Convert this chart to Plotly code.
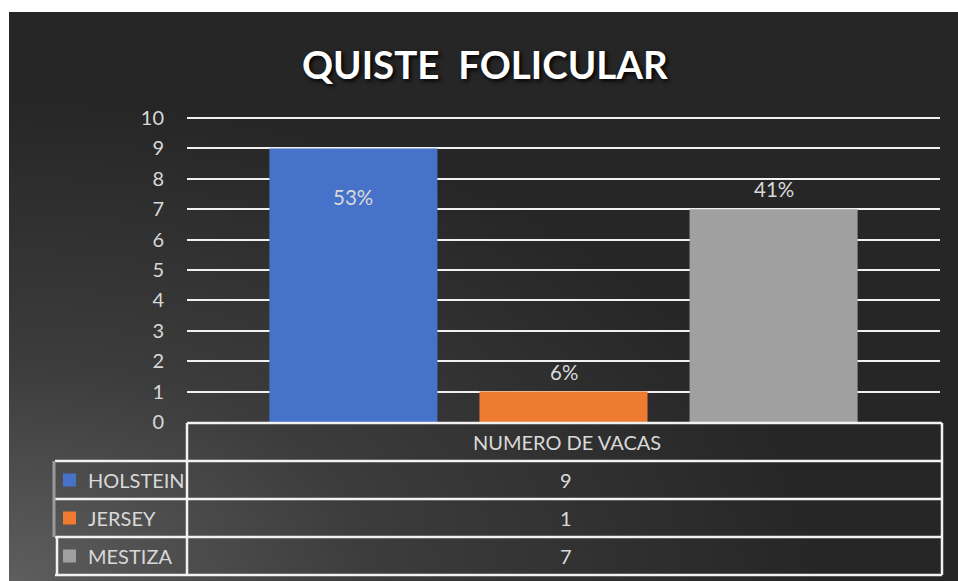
import base64
import plotly.graph_objects as go

# ---------------- data ----------------
categories = ["NUMERO DE VACAS"]
series_names = ["HOLSTEIN", "JERSEY", "MESTIZA"]
series_values = [9, 1, 7]
series_colors = ["#4673c9", "#ee7b30", "#a0a0a0"]
y_ticks = [0, 1, 2, 3, 4, 5, 6, 7, 8, 9, 10]
title_text = "QUISTE\u00a0\u00a0FOLICULAR"

W, H = 958, 581
FONT = "Lato"
TXT = "#d9d9d9"


def px(x):
    return x / W


def py(y):
    return 1 - y / H


BARGAP = 0.163
GROUPGAP = 0.2
Y_TOP = 10.5  # small headroom so the top gridline is drawn
PX_PER_UNIT = (422 - 118) / 10

fig = go.Figure()
for name, v, c in zip(series_names, series_values, series_colors):
    fig.add_trace(go.Bar(x=[0], y=[v], name=name, marker=dict(color=c, line=dict(width=0)),
                         hoverinfo="name+y"))

# background gradient (dark with lighter lower-left)
bw, bh = W - 9, H - 12
svg = (f'<svg xmlns="http://www.w3.org/2000/svg" width="{bw}" height="{bh}">'
       '<defs><radialGradient id="g" cx="0" cy="1" r="0.85">'
       '<stop offset="0" stop-color="#5e5e5e"/><stop offset="0.45" stop-color="#3c3c3c"/>'
       '<stop offset="1" stop-color="#262626"/></radialGradient></defs>'
       f'<rect width="{bw}" height="{bh}" fill="url(#g)"/></svg>')
src = "data:image/svg+xml;base64," + base64.b64encode(svg.encode()).decode()

annotations = []
# title
annotations.append(dict(text=f"<b>{title_text}</b>", xref="paper", yref="paper",
                        x=px(485), y=py(64), xanchor="center", yanchor="middle", showarrow=False,
                        font=dict(family=FONT, size=38.5, color="#ffffff", shadow="2px 2px 4px #000000")))

# percentage labels
total = sum(series_values)
slot = (1 - BARGAP) / len(series_values)
for i, v in enumerate(series_values):
    pct = f"{round(v / total * 100)}%"
    xi = (i - (len(series_values) - 1) / 2) * slot
    if i == 0:
        yv = v - 1.6
    else:
        yv = v + 0.65
    annotations.append(dict(text=pct, x=xi, y=yv, xref="x", yref="y", showarrow=False,
                            xanchor="center", yanchor="middle", font=dict(family=FONT, size=20.5, color=TXT)))

# data table
shapes = []
LINE = dict(color="#f2f2f2", width=2.5)
tx0, tx1 = 187, 942
ty = [423, 461, 499, 537, 575]
shapes.append(dict(type="line", xref="paper", yref="paper", x0=px(tx0), x1=px(tx1), y0=py(ty[0]), y1=py(ty[0]), line=LINE))
for yy in ty[1:]:
    shapes.append(dict(type="line", xref="paper", yref="paper", x0=px(55), x1=px(tx1), y0=py(yy), y1=py(yy), line=LINE))
shapes.append(dict(type="line", xref="paper", yref="paper", x0=px(tx0), x1=px(tx0), y0=py(ty[0]), y1=py(ty[-1]), line=LINE))
shapes.append(dict(type="line", xref="paper", yref="paper", x0=px(tx1), x1=px(tx1), y0=py(ty[0]), y1=py(ty[-1]), line=LINE))
shapes.append(dict(type="line", xref="paper", yref="paper", x0=px(54), x1=px(54), y0=py(ty[1]), y1=py(ty[3]),
                   line=dict(color="#9a9a9a", width=3)))
shapes.append(dict(type="line", xref="paper", yref="paper", x0=px(57), x1=px(57), y0=py(ty[3]), y1=py(ty[4]), line=LINE))

annotations.append(dict(text=categories[0], xref="paper", yref="paper", x=px(567), y=py((ty[0] + ty[1]) / 2),
                        showarrow=False, xanchor="center", yanchor="middle", font=dict(family=FONT, size=20, color=TXT)))
for i, (name, v, c) in enumerate(zip(series_names, series_values, series_colors)):
    yc = (ty[i + 1] + ty[i + 2]) / 2
    shapes.append(dict(type="rect", xref="paper", yref="paper", x0=px(63), x1=px(76), y0=py(yc - 6.5), y1=py(yc + 6.5),
                       fillcolor=c, line=dict(width=0)))
    annotations.append(dict(text=name, xref="paper", yref="paper", x=px(86), y=py(yc), showarrow=False,
                            xanchor="left", yanchor="middle", font=dict(family=FONT, size=20, color=TXT)))
    annotations.append(dict(text=str(v), xref="paper", yref="paper", x=px(566), y=py(yc), showarrow=False,
                            xanchor="center", yanchor="middle", font=dict(family=FONT, size=20, color=TXT)))

fig.update_layout(
    width=W, height=H,
    margin=dict(l=0, r=0, t=0, b=0, pad=0, autoexpand=False),
    paper_bgcolor="#ffffff",
    plot_bgcolor="rgba(0,0,0,0)",
    barmode="group", bargap=BARGAP, bargroupgap=GROUPGAP,
    showlegend=False,
    images=[dict(source=src, xref="paper", yref="paper", x=px(9), y=1 - 12 / H, sizex=bw / W, sizey=bh / H,
                 xanchor="left", yanchor="top", sizing="stretch", layer="below")],
    xaxis=dict(domain=[px(187), px(940)], range=[-0.5, 0.5], visible=False, fixedrange=True, automargin=False),
    yaxis=dict(domain=[py(422), py(118 - (Y_TOP - 10) * PX_PER_UNIT)], range=[0, Y_TOP],
               tickvals=y_ticks, ticktext=[str(t) for t in y_ticks],
               showgrid=True, gridcolor="#f0f0f0", gridwidth=2, zeroline=False, showline=False, automargin=False,
               ticks="", ticklabelstandoff=22, tickfont=dict(family=FONT, size=20, color=TXT), fixedrange=True),
    annotations=annotations,
    shapes=shapes,
)

fig.write_html("out.html", config={"displayModeBar": False},
               post_script="document.body.style.margin='0';document.body.style.overflow='hidden';")
